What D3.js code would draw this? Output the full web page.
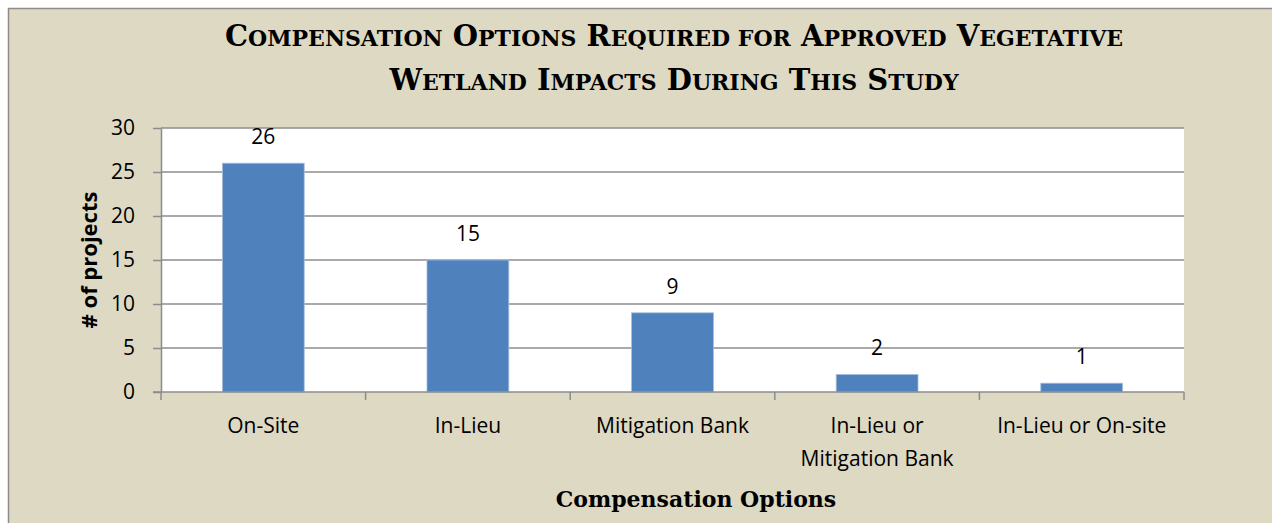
<!DOCTYPE html>
<head>
    <meta charset="utf-8">
    <script src="https://d3js.org/d3.v7.min.js"></script>
    <style>
        body { margin:0; background:#fff; }
        svg text { fill:#000; }
    </style>
</head>
<body>
    <svg id="svgelem" width="1272" height="523"></svg>
    <script>
        // chart data
        var categories = ["On-Site", "In-Lieu", "Mitigation Bank", "In-Lieu or\nMitigation Bank", "In-Lieu or On-site"];
        var projects = [26, 15, 9, 2, 1];
        var yTicks = [0, 5, 10, 15, 20, 25, 30];
        var titleLines = ["Compensation Options Required for Approved Vegetative", "Wetland Impacts During This Study"];

        var svg = d3.select("#svgelem");
        var pLeft = 161, pRight = 1184, pTop = 128, pBottom = 392;

        // tan chart area with grey frame
        svg.append("rect")
            .attr("x", 8.5).attr("y", 8.5)
            .attr("width", 1280).attr("height", 530)
            .attr("fill", "#ddd9c3")
            .attr("stroke", "#8c8c8c").attr("stroke-width", 1.5);

        // title in small caps (built by hand so the small letters are a bit taller)
        titleLines.forEach(function(line, k) {
            var t = svg.append("text")
                .attr("x", 674).attr("y", 46 + k * 44)
                .attr("text-anchor", "middle")
                .style("font-family", "'DejaVu Serif', serif")
                .style("font-weight", "bold")
                .style("font-size", "29px");
            line.split(" ").forEach(function(w, j) {
                var first = (j > 0 ? " " : "") + w[0];
                var big = w[0] === w[0].toUpperCase();
                t.append("tspan").style("font-size", big ? "29px" : "22px").text(big ? first : first.toUpperCase());
                t.append("tspan").style("font-size", "22px").text(w.slice(1).toUpperCase());
            });
        });

        var x = d3.scaleBand().domain(categories).range([pLeft, pRight]).paddingInner(0.6).paddingOuter(0.3);
        var xb = d3.scaleBand().domain(categories).range([pLeft, pRight]);
        var y = d3.scaleLinear().domain([0, 30]).range([pBottom, pTop]);

        // plot area
        svg.append("rect")
            .attr("x", pLeft).attr("y", pTop)
            .attr("width", pRight - pLeft).attr("height", pBottom - pTop)
            .attr("fill", "#fff");

        // gridlines
        svg.selectAll(".grid")
            .data(yTicks.filter(function(d) { return d > 0; }))
            .enter().append("line")
            .attr("x1", pLeft).attr("x2", pRight)
            .attr("y1", function(d) { return y(d); })
            .attr("y2", function(d) { return y(d); })
            .attr("stroke", "#8c8c8c").attr("stroke-width", 1.5);

        // bars
        svg.selectAll(".bar")
            .data(projects)
            .enter().append("rect")
            .attr("class", "bar")
            .attr("x", function(d, i) { return x(categories[i]); })
            .attr("width", x.bandwidth())
            .attr("y", function(d) { return y(d); })
            .attr("height", function(d) { return pBottom - y(d); })
            .attr("fill", "#4f81bd")
            .attr("stroke", "#a7c0de").attr("stroke-width", 0.8);

        // value labels
        svg.selectAll(".val")
            .data(projects)
            .enter().append("text")
            .attr("x", function(d, i) { return x(categories[i]) + x.bandwidth() / 2; })
            .attr("y", function(d) { return y(d) - 19; })
            .attr("text-anchor", "middle")
            .style("font-family", "'Open Sans', sans-serif")
            .style("font-size", "21px")
            .text(function(d) { return d; });

        // y axis
        var yAxis = svg.append("g")
            .attr("transform", "translate(" + pLeft + ",0)")
            .call(d3.axisLeft(y).tickValues(yTicks).tickSize(8).tickSizeOuter(0).tickPadding(18));
        yAxis.select(".domain").attr("stroke", "#8c8c8c").attr("stroke-width", 1.5);
        yAxis.selectAll(".tick line").attr("stroke", "#8c8c8c").attr("stroke-width", 1.5);
        yAxis.selectAll("text")
            .style("font-family", "'Open Sans', sans-serif")
            .style("font-size", "21px")
            .attr("fill", "#000");

        // x axis: ticks at category boundaries
        var bounds = categories.map(function(c) { return xb(c); }).concat([pRight]);
        svg.append("line")
            .attr("x1", pLeft - 8).attr("x2", pRight)
            .attr("y1", pBottom).attr("y2", pBottom)
            .attr("stroke", "#8c8c8c").attr("stroke-width", 1.5);
        svg.selectAll(".xtick")
            .data(bounds)
            .enter().append("line")
            .attr("x1", function(d) { return d; }).attr("x2", function(d) { return d; })
            .attr("y1", pBottom).attr("y2", pBottom + 8)
            .attr("stroke", "#8c8c8c").attr("stroke-width", 1.5);

        // category labels
        var cat = svg.selectAll(".cat")
            .data(categories)
            .enter().append("text")
            .attr("text-anchor", "middle")
            .style("font-family", "'Open Sans', sans-serif")
            .style("font-size", "21px");
        cat.each(function(c) {
            var lines = c.split("\n");
            var t = d3.select(this);
            lines.forEach(function(l, k) {
                t.append("tspan")
                    .attr("x", xb(c) + xb.bandwidth() / 2)
                    .attr("y", 433 + k * 33)
                    .text(l);
            });
        });

        // axis titles
        svg.append("text")
            .attr("x", 696).attr("y", 507)
            .attr("text-anchor", "middle")
            .style("font-family", "'DejaVu Serif', serif")
            .style("font-weight", "bold")
            .style("font-size", "22px")
            .text("Compensation Options");

        svg.append("text")
            .attr("transform", "translate(97,260) rotate(-90)")
            .attr("text-anchor", "middle")
            .style("font-family", "'Open Sans', sans-serif")
            .style("font-weight", "bold")
            .style("font-size", "22px")
            .text("# of projects");
    </script>
</body>
